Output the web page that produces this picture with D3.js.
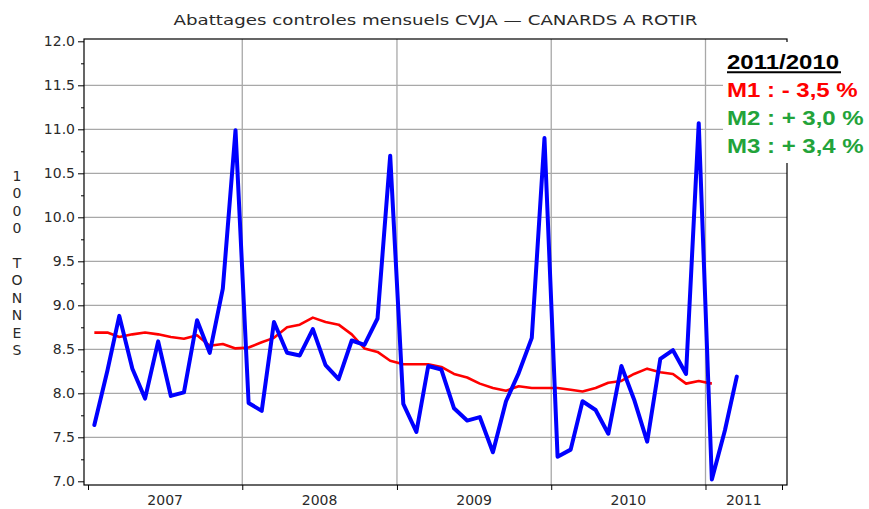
<!DOCTYPE html>
<html><head><meta charset="utf-8">
<script src="https://cdn.jsdelivr.net/npm/d3@7"></script>
<style>body{margin:0;background:#fff}svg{display:block}</style>
</head><body>
<svg id="chart" width="869" height="509"></svg>
<script>
// ---- data ----
const startMonth = "2007-01";
const blueValues = [
  7.64, 8.26, 8.88, 8.28, 7.94, 8.59, 7.97, 8.01, 8.83, 8.46, 9.19, 10.99,
  7.89, 7.80, 8.81, 8.46, 8.43, 8.73, 8.32, 8.16, 8.60, 8.55, 8.85, 10.70,
  7.88, 7.56, 8.31, 8.27, 7.83, 7.69, 7.73, 7.33, 7.91, 8.23, 8.63, 10.90,
  7.28, 7.36, 7.91, 7.81, 7.54, 8.31, 7.93, 7.45, 8.39, 8.49, 8.22, 11.07,
  7.02, 7.58, 8.19
];
const redValues = [
  8.69, 8.69, 8.64, 8.67, 8.69, 8.67, 8.64, 8.62, 8.66, 8.54, 8.56, 8.51,
  8.52, 8.58, 8.63, 8.75, 8.78, 8.86, 8.81, 8.78, 8.67, 8.51, 8.47, 8.37,
  8.33, 8.33, 8.33, 8.30, 8.22, 8.18, 8.11, 8.06, 8.03, 8.08, 8.06, 8.06,
  8.06, 8.04, 8.02, 8.06, 8.12, 8.14, 8.22, 8.28, 8.24, 8.22, 8.11, 8.14,
  8.11
];
const yearLabels = ["2007", "2008", "2009", "2010", "2011"];
const yTicks = [7.0, 7.5, 8.0, 8.5, 9.0, 9.5, 10.0, 10.5, 11.0, 11.5, 12.0];
const titleText = "Abattages controles mensuels CVJA \u2014 CANARDS A ROTIR";
const yAxisTitle = "1000 TONNES";
const legendTitle = "2011/2010";
const legendLines = [
  {text: "M1 : - 3,5 %", color: "#ff0000"},
  {text: "M2 : + 3,0 %", color: "#22a33a"},
  {text: "M3 : + 3,4 %", color: "#22a33a"}
];

// ---- setup ----
const svg = d3.select("#chart");
const frame = {left: 84, right: 787, top: 39, bottom: 485};
const parse = d3.timeParse("%Y-%m");
const t0 = parse(startMonth);
const monthDate = i => { const d = d3.timeMonth.offset(t0, i); return new Date(d.getFullYear(), d.getMonth(), 16); };

const x = d3.scaleTime()
  .domain([new Date(2007, 0, 1), new Date(2011, 6, 1)])
  .range([88, 782]);
const y = d3.scaleLinear().domain([7, 12]).range([481.3, 41.3]);

const font = "'DejaVu Sans', sans-serif";
const textColor = "#2a2a2a";

// gridlines
const yearStarts = yearLabels.map(yy => new Date(+yy, 0, 1));
svg.append("g").selectAll("line.h").data(yTicks.filter(v => v > 7 && v < 12)).join("line")
  .attr("x1", frame.left).attr("x2", frame.right)
  .attr("y1", d => y(d)).attr("y2", d => y(d))
  .attr("stroke", "#a8a8a8").attr("stroke-width", 1.3);
svg.append("g").selectAll("line.v").data(yearStarts.slice(1)).join("line")
  .attr("x1", d => x(d)).attr("x2", d => x(d))
  .attr("y1", frame.top).attr("y2", frame.bottom)
  .attr("stroke", "#a8a8a8").attr("stroke-width", 1.3);

// frame
svg.append("rect")
  .attr("x", frame.left).attr("y", frame.top)
  .attr("width", frame.right - frame.left).attr("height", frame.bottom - frame.top)
  .attr("fill", "none").attr("stroke", "#000").attr("stroke-width", 1.2);

// y axis
const yAxis = d3.axisLeft(y).tickValues(yTicks).tickFormat(d3.format(".1f")).tickSize(6).tickPadding(3);
const gy = svg.append("g").attr("transform", `translate(${frame.left},0)`).call(yAxis);
gy.select(".domain").remove();
gy.selectAll("text").attr("font-family", font).attr("font-size", 14).attr("fill", textColor);
const minor = d3.range(7.25, 12, 0.5);
const yMinor = d3.axisLeft(y).tickValues(minor).tickFormat("").tickSize(3);
const gym = svg.append("g").attr("transform", `translate(${frame.left},0)`).call(yMinor);
gym.select(".domain").remove();

// x axis
const xTickDates = yearStarts.concat([new Date(2011, 6, 1)]);
const xAxis = d3.axisBottom(x).tickValues(xTickDates).tickFormat("").tickSize(5);
const gx = svg.append("g").attr("transform", `translate(0,${frame.bottom})`).call(xAxis);
gx.select(".domain").remove();
svg.append("g").selectAll("text").data(yearLabels).join("text")
  .attr("x", (d, i) => (x(xTickDates[i]) + x(xTickDates[i + 1])) / 2)
  .attr("y", 505)
  .attr("text-anchor", "middle")
  .attr("font-family", font).attr("font-size", 14).attr("fill", textColor)
  .text(d => d);

// lines
const line = d3.line().x((d, i) => x(monthDate(i))).y(d => y(d));
svg.append("path").datum(redValues).attr("d", line)
  .attr("fill", "none").attr("stroke", "#ff0000").attr("stroke-width", 2.6).attr("stroke-linejoin", "round");
svg.append("path").datum(blueValues).attr("d", line)
  .attr("fill", "none").attr("stroke", "#0000ff").attr("stroke-width", 4).attr("stroke-linejoin", "round").attr("stroke-linecap", "round");

// title
svg.append("text").attr("x", (frame.left + frame.right) / 2).attr("y", 25)
  .attr("text-anchor", "middle").attr("font-family", font).attr("font-size", 14.5).attr("fill", textColor)
  .attr("textLength", 524).attr("lengthAdjust", "spacingAndGlyphs")
  .text(titleText);

// y axis title (stacked letters)
svg.append("g").selectAll("text").data(yAxisTitle.split("")).join("text")
  .attr("x", 17).attr("y", (d, i) => 181 + i * 17.4)
  .attr("text-anchor", "middle").attr("font-family", font).attr("font-size", 14).attr("fill", textColor)
  .text(d => d);

// legend
svg.append("rect").attr("x", 723).attr("y", 42).attr("width", 146).attr("height", 121).attr("fill", "#fff");
const lf = "'Liberation Sans', Arial, sans-serif";
const lg = svg.append("g").attr("transform", "translate(727,0) scale(1.2,1)");
lg.append("text").attr("x", 0).attr("y", 69.3)
  .attr("font-family", lf).attr("font-weight", "bold").attr("font-size", 20).attr("fill", "#000")
  .text(legendTitle);
svg.append("line").attr("x1", 727).attr("x2", 841).attr("y1", 72.3).attr("y2", 72.3)
  .attr("stroke", "#000").attr("stroke-width", 2);
lg.append("g").selectAll("text").data(legendLines).join("text")
  .attr("x", 0).attr("y", (d, i) => 97.3 + i * 27.7)
  .attr("font-family", lf).attr("font-weight", "bold").attr("font-size", 20)
  .attr("fill", d => d.color)
  .text(d => d.text);
</script>
</body></html>
